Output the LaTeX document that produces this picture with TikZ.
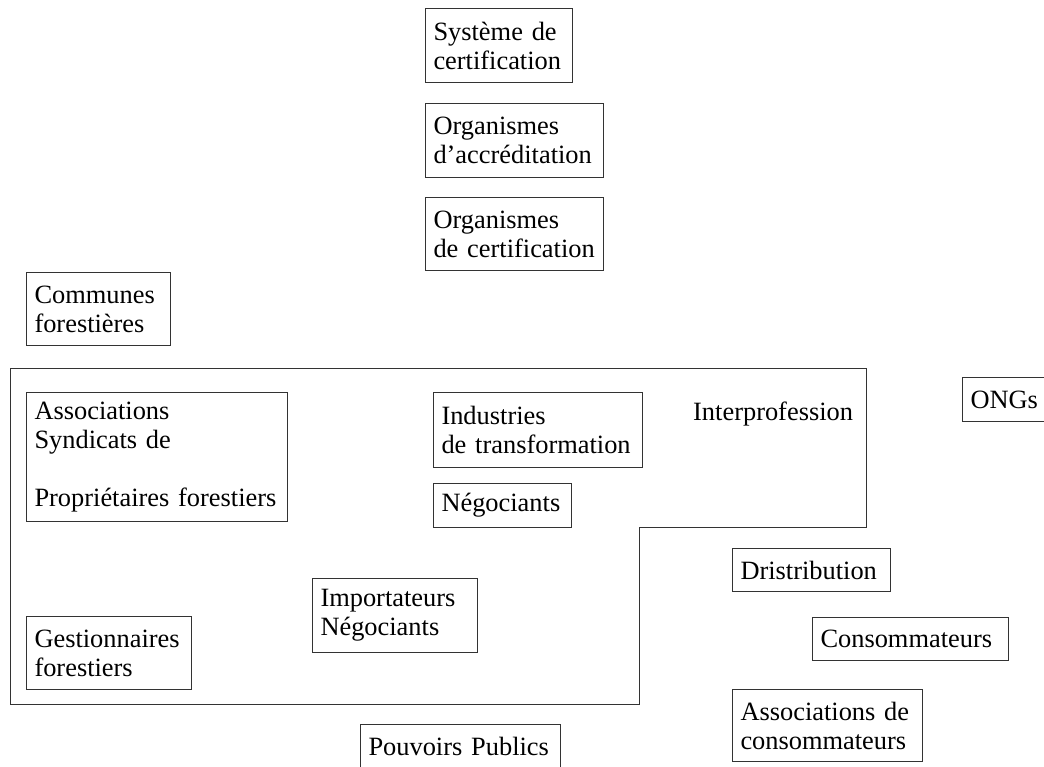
\documentclass[tikz,border=0pt]{standalone}
\usepackage{fontspec}
\setmainfont{Liberation Serif}
\usetikzlibrary{positioning}
\hyphenpenalty=10000
\exhyphenpenalty=10000
\tikzstyle{actor}=[%
  draw=black!80,
  line width=1pt,
  anchor=north west,
  align=left,
  inner xsep=8pt,
  inner ysep=3pt,
  font=\fontsize{26.4}{29}\selectfont
]

\begin{document}
\begin{tikzpicture}[x=1pt, y=-1pt]
  \useasboundingbox (0,0) rectangle (1044,766);
  % certification chain
  \node[actor, text width=131pt, minimum height=74pt] (sys) at (425,8) {Système de\\certification};
  \node[actor, text width=162pt, minimum height=74pt] (accr) at (425,103) {Organismes\\d’accréditation};
  \node[actor, text width=162pt, minimum height=73pt] (cert) at (425,197) {Organismes\\de certification};
  \node[actor, text width=128pt, minimum height=73pt] (comm) at (26,272) {Communes\\forestières};
  % interprofession area
  \draw[draw=black!80, line width=1pt] (10,368) -- (866,368) -- (866,527) -- (639,527)
    -- (639,704) -- (10,704) -- cycle;
  \node[anchor=base west, inner sep=0pt, font=\fontsize{26.4}{29}\selectfont] (inter) at (693,420) {Interprofession};
  \node[actor, text width=245pt, minimum height=129pt] (prop) at (26,392) {Associations\\Syndicats de\\[29pt]Propriétaires forestiers};
  \node[actor, text width=193pt, minimum height=75pt] (indus) at (433,392) {Industries\\de transformation};
  \node[actor, text width=122pt, minimum height=44pt] (nego) at (433,483) {Négociants};
  \node[actor, text width=149pt, minimum height=74pt] (impo) at (312,578) {Importateurs\\Négociants};
  \node[actor, text width=149pt, minimum height=73pt] (gest) at (26,616) {Gestionnaires\\forestiers};
  % outside actors
  \node[actor, text width=184pt, minimum height=44pt] (pouv) at (360,724) {Pouvoirs Publics};
  \node[actor, text width=72pt, minimum height=44pt] (ong) at (962,377) {ONGs};
  \node[actor, text width=142pt, minimum height=43pt] (distr) at (732,548) {Dristribution};
  \node[actor, text width=180pt, minimum height=43pt] (conso) at (812,617) {Consommateurs};
  \node[actor, text width=174pt, minimum height=72pt] (aconso) at (732,689) {Associations de\\consommateurs};
\end{tikzpicture}
\end{document}
